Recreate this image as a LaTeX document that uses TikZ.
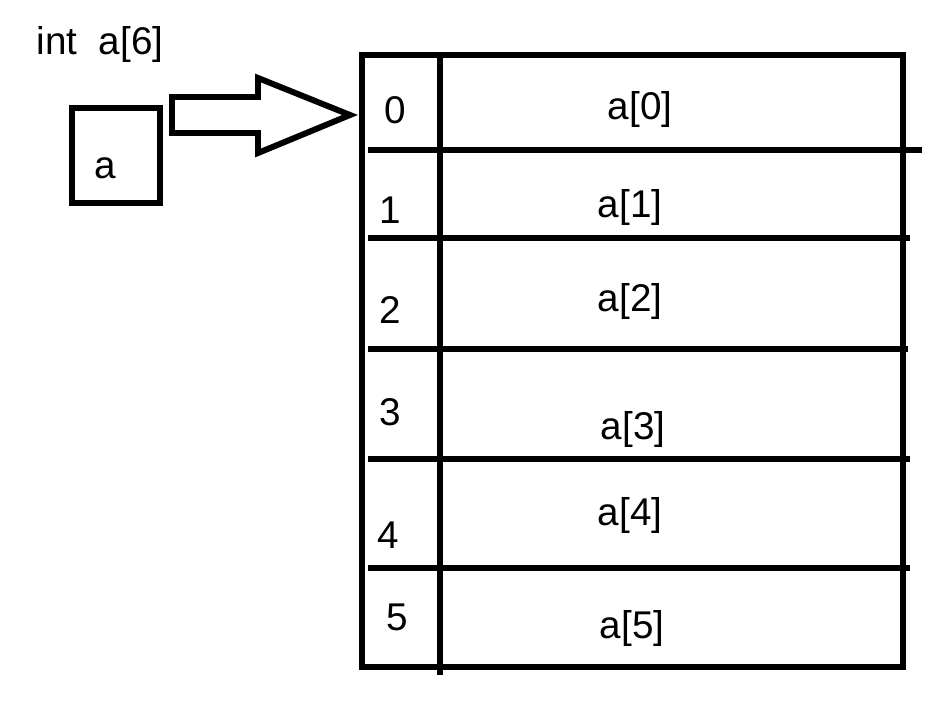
\documentclass[tikz,border=0pt]{standalone}
\usepackage{fontspec}
\setmainfont{Liberation Sans}
\usetikzlibrary{calc}
\tikzset{
  thickline/.style={line width=3.4pt},
  lbl/.style={font=\fontsize{22}{26}\selectfont, inner sep=0pt}
}
\begin{document}
\begin{tikzpicture}[x=0.02cm,y=-0.02cm]
    \useasboundingbox (0,0) rectangle (945,716);
    \node[lbl] (decl) at (100,45) {int\ \ a[6]};
    % pointer box
    \draw[thickline] (72,108) rectangle (160,203);
    \node[lbl] (ptr) at (105,168) {a};
    % hollow arrow
    \draw[thickline,line join=miter] (172,97) -- (258,97) -- (258,78) -- (350,115)
        -- (258,153) -- (258,133) -- (172,133) -- cycle;
    % array
    \draw[thickline] (362,55) rectangle (903,667);
    \draw[thickline] (440,55) -- (440,675);
    \foreach \y/\e in {150/922, 238/910, 349/908, 459/910, 568/910}
        \draw[thickline] (368,\y) -- (\e,\y);
    %labels
    \foreach \i/\x/\y in {0/395/110, 1/390/210, 2/390/310, 3/390/412, 4/388/535, 5/397/617}
        \node[lbl] (idx\i) at (\x,\y) {\i};
    \foreach \i/\x/\y in {0/640/110, 1/630/208, 2/630/302, 3/633/430, 4/630/515, 5/632/628}
        \node[lbl] (elem\i) at (\x,\y) {a[\i]};
\end{tikzpicture}
\end{document}
